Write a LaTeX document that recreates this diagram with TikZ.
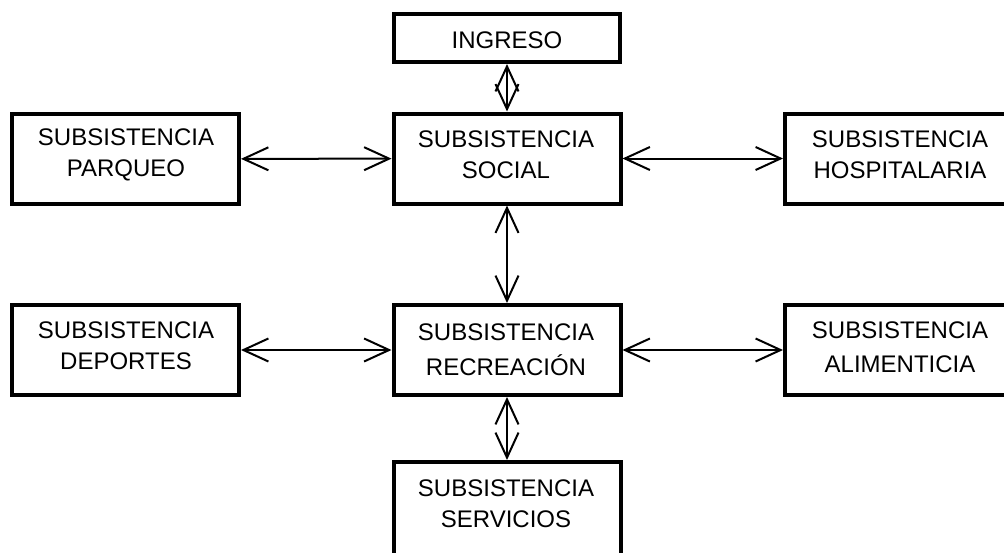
\documentclass[tikz,border=0pt]{standalone}
\usepackage{fontspec}
\setmainfont{Liberation Sans}
\usetikzlibrary{arrows.meta}
\begin{document}
\begin{tikzpicture}[x=1pt,y=-1pt,
  box/.style={draw, line width=4pt, minimum width=227pt, minimum height=90pt, inner sep=0pt},
  openbox/.style={minimum width=227pt, minimum height=90pt, inner sep=0pt, outer sep=0pt},
  frame/.style={line width=4pt},
  txt/.style={align=center, inner sep=0pt, font=\fontsize{24}{31}\selectfont},
  link/.style={line width=2pt, {Straight Barb[length=25pt,width=23pt]}-{Straight Barb[length=25pt,width=23pt]}}]
\useasboundingbox (0,0) rectangle (1004,552);
\clip (0,0) rectangle (1004,552);
% boxes
\node[box, minimum height=48pt, minimum width=226pt] (ing) at (507,38) {};
\node[box] (soc) at (507,158.5) {};
\node[box] (par) at (125.5,159) {};
\node[openbox, minimum width=235pt] (hos) at (902.5,159) {};
\node[box] (rec) at (507,350) {};
\node[box] (dep) at (125.5,350) {};
\node[openbox, minimum width=235pt] (ali) at (902.5,350) {};
\node[openbox, minimum height=98pt] (ser) at (507,511) {};
\draw[frame] (hos.north east) -- (hos.north west) -- (hos.south west) -- (hos.south east);
\draw[frame] (ali.north east) -- (ali.north west) -- (ali.south west) -- (ali.south east);
\draw[frame] (ser.south west) -- (ser.north west) -- (ser.north east) -- (ser.south east);
% texts
\node[txt] (ing-t) at (507,40) {INGRESO};
\node[txt] (soc-t) at (506,154.5) {SUBSISTENCIA\\SOCIAL};
\node[txt] (par-t) at (126,154.5) {SUBSISTENCIA\\PARQUEO};
\node[txt] (hos-t) at (900,154.5) {SUBSISTENCIA\\HOSPITALARIA};
\node[txt, font=\fontsize{24}{35}\selectfont] (rec-t) at (506,349.5) {SUBSISTENCIA\\RECREACIÓN};
\node[txt] (dep-t) at (126,345.5) {SUBSISTENCIA\\DEPORTES};
\node[txt, font=\fontsize{24}{34}\selectfont] (ali-t) at (900,347.5) {SUBSISTENCIA\\ALIMENTICIA};
\node[txt] (ser-t) at (506,503.5) {SUBSISTENCIA\\SERVICIOS};
% connectors
\draw[link] (ing) -- (soc);
\draw[link] (par) -- (soc);
\draw[link, shorten >=2pt] (soc) -- (soc -| hos.west);
\draw[link] (soc) -- (rec);
\draw[link] (dep) -- (rec);
\draw[link, shorten >=2pt] (rec) -- (rec -| ali.west);
\draw[link, shorten >=2pt] (rec) -- (ser.north);
\end{tikzpicture}
\end{document}
